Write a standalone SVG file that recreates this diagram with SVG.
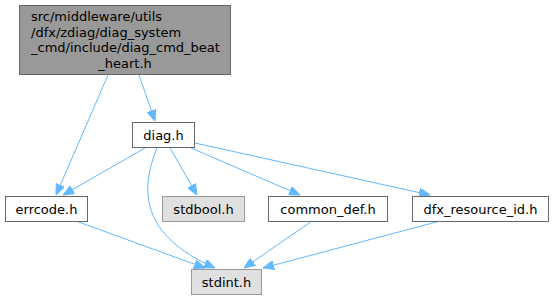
<svg xmlns="http://www.w3.org/2000/svg" width="555" height="300" viewBox="0 0 555 300">
<style>
.t{font-family:"DejaVu Sans",sans-serif;font-size:13px;fill:#000;text-anchor:middle}
.n{fill:#fff;stroke:#666}
.g{fill:#e0e0e0;stroke:#999}
.e{fill:none;stroke:#63b8ff;stroke-width:1}
</style>
<defs>
<marker id="a" viewBox="0 0 11 9" refX="11" refY="4.5" markerWidth="11" markerHeight="9" markerUnits="userSpaceOnUse" orient="auto">
<path d="M0,0 L11,4.5 L0,9 Z" fill="#63b8ff" stroke="#63b8ff"/>
</marker>
</defs>
<rect width="555" height="300" fill="#fff"/>
<g id="edges">
<path class="e" d="M108,75 L56,195" marker-end="url(#a)"/>
<path class="e" d="M139,75 L155,121" marker-end="url(#a)"/>
<path class="e" d="M145,148 L63,195" marker-end="url(#a)"/>
<path class="e" d="M157,148 C140,190 140,235 215,268" marker-end="url(#a)"/>
<path class="e" d="M170,148 L197,195" marker-end="url(#a)"/>
<path class="e" d="M191,148 L300,195" marker-end="url(#a)"/>
<path class="e" d="M195,143 L430,195" marker-end="url(#a)"/>
<path class="e" d="M76,221 L205,268" marker-end="url(#a)"/>
<path class="e" d="M312,221 L244,268" marker-end="url(#a)"/>
<path class="e" d="M440,221 L263,268" marker-end="url(#a)"/>
</g>
<g id="n_top">
<rect x="19.5" y="5.5" width="211" height="69" fill="#999" stroke="#666"/>
<text class="t" x="31" y="21" style="text-anchor:start">src/middleware/utils</text>
<text class="t" x="31" y="36.5" style="text-anchor:start">/dfx/zdiag/diag_system</text>
<text class="t" x="31" y="52" style="text-anchor:start">_cmd/include/diag_cmd_beat</text>
<text class="t" x="125" y="67.5">_heart.h</text>
</g>
<g id="n_diag">
<rect class="n" x="132.5" y="122.5" width="62" height="25"/>
<text class="t" x="163.5" y="139.5">diag.h</text>
</g>
<g id="n_errcode">
<rect class="n" x="5.5" y="196.5" width="82" height="25"/>
<text class="t" x="46.5" y="213.5">errcode.h</text>
</g>
<g id="n_stdbool">
<rect class="g" x="162.5" y="196.5" width="82" height="25"/>
<text class="t" x="203.5" y="213.5">stdbool.h</text>
</g>
<g id="n_common">
<rect class="n" x="268.5" y="196.5" width="119" height="25"/>
<text class="t" x="328" y="213.5">common_def.h</text>
</g>
<g id="n_dfx">
<rect class="n" x="412.5" y="196.5" width="136" height="25"/>
<text class="t" x="480.5" y="213.5">dfx_resource_id.h</text>
</g>
<g id="n_stdint">
<rect class="g" x="191.5" y="269.5" width="70" height="25"/>
<text class="t" x="226.5" y="286.5">stdint.h</text>
</g>
</svg>
